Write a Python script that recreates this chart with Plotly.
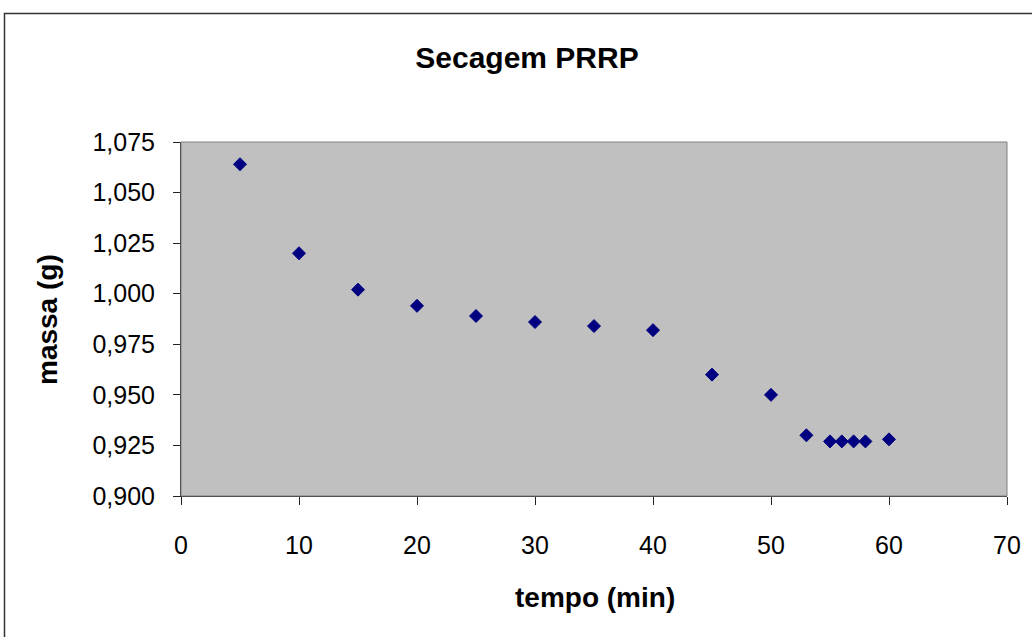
import plotly.graph_objects as go

tempo = [5, 10, 15, 20, 25, 30, 35, 40, 45, 50, 53, 55, 56, 57, 58, 60]
massa = [1.064, 1.020, 1.002, 0.994, 0.989, 0.986, 0.984, 0.982,
         0.960, 0.950, 0.930, 0.927, 0.927, 0.927, 0.927, 0.928]

title_text = "Secagem PRRP"
x_title = "tempo (min)"
y_title = "massa (g)"

FONT = "Liberation Sans, Arial, sans-serif"

fig = go.Figure()
fig.add_trace(go.Scatter(
    x=tempo, y=massa, mode="markers",
    marker=dict(symbol="diamond", size=10, color="#000080",
                line=dict(color="#000080", width=1)),
    showlegend=False,
))

L, R, T, B = 181, 25, 142, 141
W, H = 1032, 637
pw, ph = W - L - R, H - T - B

def px_x(p):
    return (p - L) / pw

def px_y(p):
    return (H - B - p) / ph

fig.update_layout(
    width=W, height=H,
    margin=dict(l=L, r=R, t=T, b=B),
    paper_bgcolor="white",
    plot_bgcolor="#C0C0C0",
    separators=", ",
    font=dict(family=FONT, color="black", size=25),
    title=dict(text="<b>" + title_text + "</b>", x=527 / W, xref="container",
               xanchor="center", y=1 - 57 / H, yref="container", yanchor="middle",
               font=dict(size=30, family=FONT, color="black")),
    xaxis=dict(range=[0, 70], dtick=10, tick0=0, showgrid=False, zeroline=False,
               showline=True, linecolor="#222222", linewidth=1,
               ticks="outside", ticklen=8, tickcolor="#222222",
               ticklabelstandoff=19,
               tickfont=dict(size=25, family=FONT, color="black")),
    yaxis=dict(range=[0.9, 1.075], dtick=0.025, tick0=0.9, tickformat=".3f",
               showgrid=False, zeroline=False,
               showline=True, linecolor="#222222", linewidth=1,
               ticks="outside", ticklen=7, tickcolor="#222222",
               ticklabelstandoff=13,
               tickfont=dict(size=25, family=FONT, color="black")),
    annotations=[
        dict(text="<b>" + x_title + "</b>", xref="paper", yref="paper",
             x=px_x(595), y=px_y(597), showarrow=False,
             xanchor="center", yanchor="middle",
             font=dict(size=28, family=FONT, color="black")),
        dict(text="<b>" + y_title + "</b>", xref="paper", yref="paper",
             x=px_x(47), y=px_y(320), showarrow=False, textangle=-90,
             xanchor="center", yanchor="middle",
             font=dict(size=28, family=FONT, color="black")),
    ],
    shapes=[
        dict(type="rect", xref="paper", yref="paper", x0=0, x1=1, y0=0, y1=1,
             line=dict(color="#808080", width=1), fillcolor="rgba(0,0,0,0)",
             layer="above"),
        dict(type="rect", xref="paper", yref="paper",
             x0=px_x(4.5), x1=px_x(1060), y0=px_y(660), y1=px_y(13.5),
             line=dict(color="#333333", width=1.5), fillcolor="rgba(0,0,0,0)"),
    ],
)

fig.write_html("out.html")
